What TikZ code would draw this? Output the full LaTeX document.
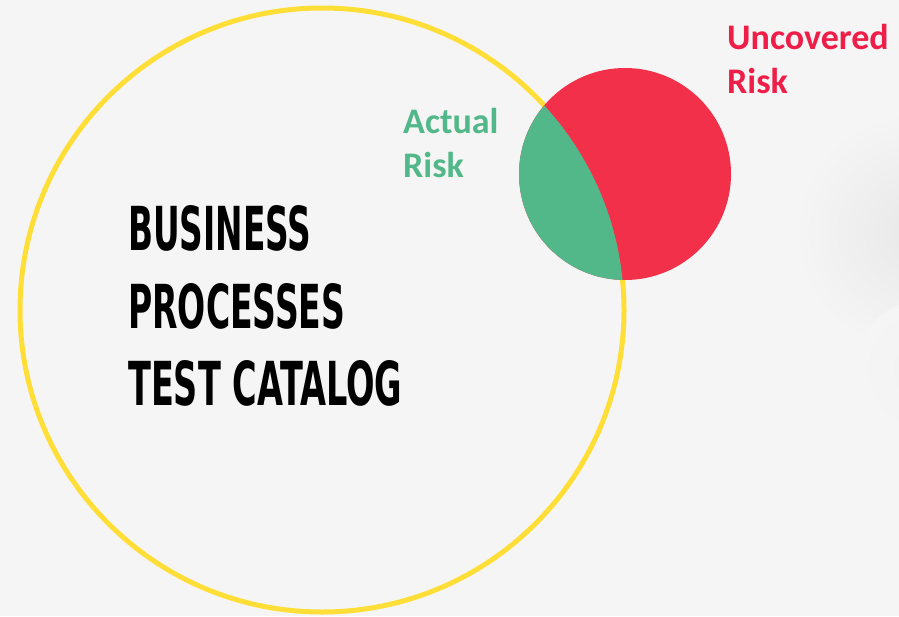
\documentclass[tikz,border=0pt]{standalone}
\usepackage{fontspec}
\setmainfont{Carlito}
\newfontfamily\titlefont{DejaVu Sans Condensed}
\definecolor{bgGray}{RGB}{245,245,245}
\definecolor{scopeYellow}{RGB}{255,222,55}
\definecolor{riskRed}{RGB}{243,48,74}
\definecolor{labelRed}{RGB}{238,30,72}
\definecolor{riskGreen}{RGB}{82,184,137}
\tikzset{
  titleline/.style={anchor=base west, inner sep=0pt, font=\titlefont\bfseries},
  risklabel/.style={anchor=base west, inner sep=0pt, font=\fontsize{36}{44}\selectfont\bfseries}
}
\begin{document}
\begin{tikzpicture}[x=1pt,y=-1pt]
% background and shadow
\fill [bgGray] (0,0) rectangle (899,616);
\useasboundingbox (0,0) rectangle (899,616);
\begin{scope}
\clip (0,0) rectangle (899,616);
\shade [inner color=black!9, outer color=bgGray] (915,232) circle (120);
\shade [inner color=black!5, outer color=bgGray] (925,370) circle (70);
\end{scope}
% scope circle
\draw [scopeYellow, line width=5pt] (322,310) circle (302);
% risk circle and covered part
\fill [riskRed] (625,174) circle (106);
\begin{scope}
\clip (322,310) circle (302);
\fill [riskGreen] (625,174) circle (106);
\end{scope}
% labels
\node [titleline] (business) at (128,250) {\resizebox{183pt}{45pt}{BUSINESS}};
\node [titleline] (processes) at (128,328) {\resizebox{217pt}{45pt}{PROCESSES}};
\node [titleline] (catalog) at (128,405) {\resizebox{274pt}{45pt}{TEST CATALOG}};
\node [risklabel, text=riskGreen, align=left] (actual) at (403,177) {Actual\\Risk};
\node [risklabel, text=labelRed, align=left] (uncovered) at (727,93) {Uncovered\\Risk};
\end{tikzpicture}
\end{document}
